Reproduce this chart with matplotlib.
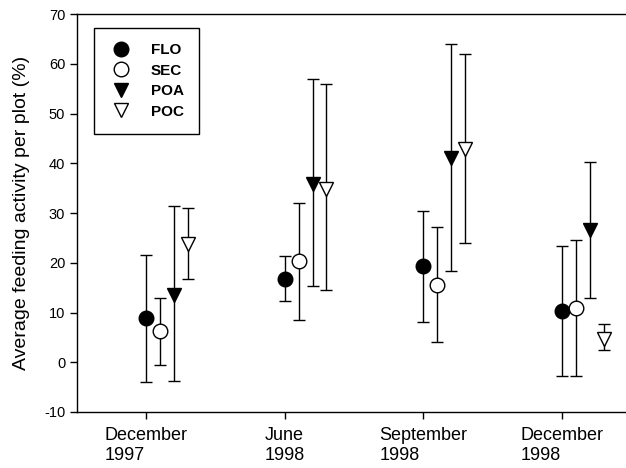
import matplotlib
matplotlib.use("Agg")
import matplotlib.pyplot as plt
from matplotlib.lines import Line2D
import numpy as np

plt.rcParams['font.family'] = ['Liberation Sans', 'DejaVu Sans']
plt.rcParams['axes.unicode_minus'] = False

periods = ["December\n1997", "June\n1998", "September\n1998", "December\n1998"]
series = ["FLO", "SEC", "POA", "POC"]

flo_mean = [8.9, 16.8, 19.3, 10.3]
flo_low = [-4.0, 12.4, 8.0, -2.8]
flo_high = [21.6, 21.4, 30.4, 23.4]

sec_mean = [6.2, 20.3, 15.6, 10.9]
sec_low = [-0.5, 8.5, 4.0, -2.8]
sec_high = [13.0, 32.0, 27.2, 24.5]

poa_mean = [13.6, 35.8, 41.0, 26.5]
poa_low = [-3.7, 15.4, 18.3, 13.0]
poa_high = [31.4, 57.0, 64.0, 40.3]

poc_mean = [23.7, 34.9, 42.8, 4.7]
poc_low = [16.8, 14.6, 24.0, 2.5]
poc_high = [31.1, 56.0, 62.0, 7.6]

fig = plt.figure(figsize=(6.26, 4.68), dpi=100)
ax = fig.add_axes([0.123, 0.1197, 0.8856, 0.850])

x = np.arange(1, len(periods) + 1)
offsets = [0.0, 0.1, 0.2, 0.3]
styles = [
    dict(marker='o', mfc='black'),
    dict(marker='o', mfc='white'),
    dict(marker='v', mfc='black'),
    dict(marker='v', mfc='white'),
]
data = [
    (flo_mean, flo_low, flo_high),
    (sec_mean, sec_low, sec_high),
    (poa_mean, poa_low, poa_high),
    (poc_mean, poc_low, poc_high),
]
handles = []
for name, off, st, (m, lo, hi) in zip(series, offsets, styles, data):
    m = np.array(m); lo = np.array(lo); hi = np.array(hi)
    yerr = np.vstack([m - lo, hi - m])
    ax.errorbar(x + off, m, yerr=yerr, fmt='none', ecolor='black',
                elinewidth=1.0, capsize=4.3, capthick=1.0, zorder=2)
    ax.plot(x + off, m, linestyle='none', marker=st['marker'], markersize=10.5,
            markerfacecolor=st['mfc'], markeredgecolor='black',
            markeredgewidth=1.0, zorder=3)
    handles.append(Line2D([], [], linestyle='none', marker=st['marker'],
                          markersize=10.5, markerfacecolor=st['mfc'],
                          markeredgecolor='black', markeredgewidth=1.0,
                          label=name))

ax.set_xlim(0.5, 4.5)
ax.set_ylim(-10, 70)
ax.set_yticks(np.arange(-10, 71, 10))
ax.set_xticks(x)
ax.set_xticklabels(periods, fontsize=13, multialignment='left')
for lab in ax.get_xticklabels():
    lab.set_x(lab.get_position()[0])
ax.tick_params(axis='y', labelsize=10.5, direction='out', length=5, width=1)
ax.tick_params(axis='x', direction='out', length=5, width=1, pad=6)
ax.set_ylabel("Average feeding activity per plot (%)", fontsize=14, labelpad=10)
ax.spines['right'].set_visible(False)
for s in ['left', 'top', 'bottom']:
    ax.spines[s].set_linewidth(1.0)

leg = ax.legend(handles=handles, loc='upper left', bbox_to_anchor=(0.031, 0.965),
                frameon=True, fancybox=False, edgecolor='black', framealpha=1,
                prop=dict(size=11, weight='bold'), handletextpad=1.2,
                borderpad=1.0, labelspacing=0.42, handlelength=1.5,
                borderaxespad=0)
leg.get_frame().set_linewidth(1.0)

fig.savefig("out.png", dpi=100)
